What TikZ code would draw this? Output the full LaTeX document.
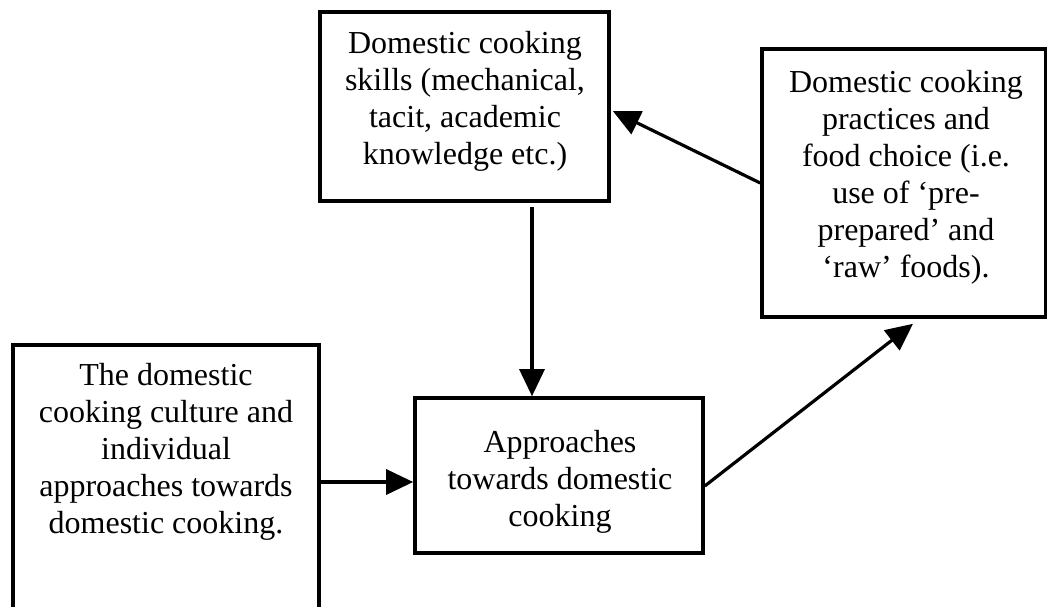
\documentclass[tikz,border=0pt]{standalone}
\usepackage{fontspec}
\setmainfont{Liberation Serif}
\usetikzlibrary{arrows.meta}

\begin{document}
\begin{tikzpicture}[x=1pt, y=-1pt,
  box/.style={draw, line width=3.6pt, inner sep=0pt, minimum width=#1},
  label/.style={align=center, anchor=north, inner sep=0pt,
    font=\fontsize{32}{37}\selectfont},
  link/.style={line width=3.2pt,
    -{Triangle[length=27pt, width=25pt]}}
]
\useasboundingbox (0,0) rectangle (1047,607);

% boxes
\node[box=289pt, minimum height=189pt] (skills)    at (464.5,106.5) {};
\node[box=284pt, minimum height=268pt] (practices) at (904,183) {};
\node[box=306pt, minimum height=295pt] (culture)   at (166,492.5) {};
\node[box=288pt, minimum height=155pt] (approach)  at (559,475.5) {};

% box texts
\node[label] (tskills) at (465,31)
  {Domestic cooking\\skills (mechanical,\\tacit, academic\\knowledge etc.)};
\node[label] (tpractices) at (906,70)
  {Domestic cooking\\practices and\\food choice (i.e.\\use of ‘pre-\\prepared’ and\\‘raw’ foods).};
\node[label] (tculture) at (166,363)
  {The domestic\\cooking culture and\\individual\\approaches towards\\domestic cooking.};
\node[label] (tapproach) at (560,430)
  {Approaches\\towards domestic\\cooking};

% connectors
\draw[link] ([xshift=67.5pt, yshift=-4pt]skills.south) -- ([xshift=-27pt]approach.north);
\draw[link] ([yshift=10.5pt]culture.east) -- ([yshift=-6.5pt]approach.west);
\draw[link] ([yshift=-10.5pt]approach.east) -- ([xshift=9pt, yshift=-5pt]practices.south);
\draw[link] (practices.west) -- ([xshift=2pt, yshift=-4.5pt]skills.east);
\end{tikzpicture}
\end{document}
